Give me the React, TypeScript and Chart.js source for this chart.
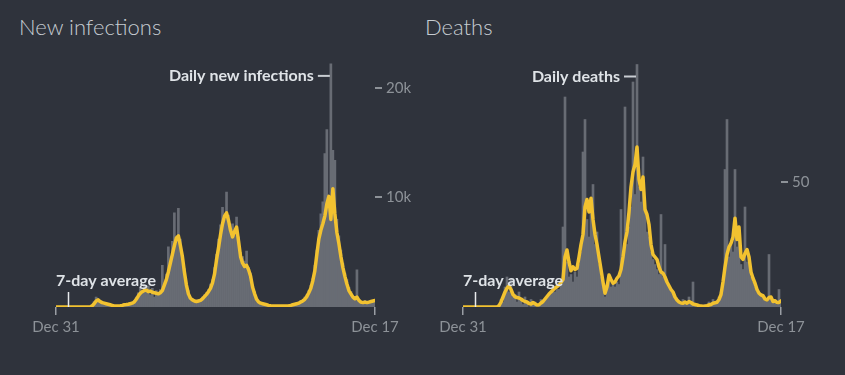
import React, { useEffect, useRef } from "react";
import { Chart, registerables } from "chart.js";

Chart.register(...registerables);

const BG = "#2f333c";
const BAR_GRAY = "#686c74";
const YELLOW = "#f2c230";
const TITLE_COLOR = "#c6ccd2";
const LABEL_COLOR = "#dfe3e7";
const TICK_COLOR = "#8d9298";
const FONT = "Lato, 'Noto Sans', sans-serif";

const xTickLabels = ["Dec 31", "Dec 17"];

// New infections, thousands per day (daily bars)
const infectionsDailyK = [
  0, 0, 0, 0, 0, 0, 0, 0, 0, 0, 0, 0, 0, 0, 0, 0, 0, 0,
  0.2, 0.5, 0.9, 0.7, 0.4, 0.5, 0.3, 0.35, 0.2, 0.25, 0.1, 0.15, 0.1, 0.05, 0.15, 0.2, 0.1, 0.3, 0.25, 0.4, 0.3, 0.6,
  0.9, 1.3, 1.8, 1.2, 2.0, 1.4, 1.9, 1.1, 1.7, 0.9, 1.5, 1.3, 1.6, 3.8, 2.2, 3.0, 5.5, 3.9, 6.0, 8.6,
  5.8, 9.0, 6.2, 4.4, 3.5, 2.1, 1.5, 0.9, 0.7, 0.5, 0.6, 0.5, 0.7, 0.9, 1.1, 1.3, 1.6, 2.1, 2.5, 3.6,
  4.8, 6.2, 7.5, 9.1, 8.0, 10.5, 8.4, 6.8, 7.6, 6.5, 8.2, 6.4, 5.0, 4.6, 4.2, 5.1, 3.6, 3.1, 2.0, 1.4,
  0.8, 0.5, 0.4, 0.3, 0.3, 0.2, 0.15, 0.1, 0.15, 0.1, 0.1, 0.12, 0.08, 0.1, 0.15, 0.1, 0.15, 0.2, 0.3, 0.2,
  0.4, 0.3, 0.6, 0.5, 0.9, 1.1, 1.5, 2.0, 2.6, 3.8, 5.2, 7.0, 8.5, 9.6, 14.0, 16.2, 9.0, 22.2, 14.3, 13.4,
  8.0, 6.5, 5.2, 4.0, 3.1, 2.5, 1.8, 1.4, 1.0, 0.8, 3.4, 0.7, 0.5, 0.4, 0.6, 0.4, 0.5, 0.6, 0.5, 0.7,
];

// New infections, 7-day average, thousands
const infectionsAvgK = [
  0, 0, 0, 0, 0, 0, 0, 0, 0, 0, 0, 0, 0, 0, 0, 0, 0, 0,
  0.1, 0.3, 0.55, 0.65, 0.5, 0.4, 0.35, 0.3, 0.25, 0.2, 0.15, 0.1, 0.1, 0.1, 0.12, 0.15, 0.2, 0.22, 0.25, 0.3, 0.35, 0.45,
  0.7, 1.0, 1.25, 1.4, 1.5, 1.55, 1.4, 1.45, 1.35, 1.3, 1.25, 1.2, 1.3, 1.5, 2.0, 2.5, 3.2, 4.0, 4.8, 5.6,
  6.3, 6.5, 5.6, 4.6, 3.2, 2.0, 1.2, 0.8, 0.65, 0.55, 0.5, 0.55, 0.6, 0.75, 0.95, 1.15, 1.4, 1.7, 2.2, 3.0,
  4.3, 5.4, 6.6, 7.6, 8.3, 8.6, 7.9, 7.0, 6.4, 6.9, 7.3, 6.0, 4.6, 4.0, 3.7, 3.8, 3.4, 2.8, 1.8, 1.2,
  0.7, 0.45, 0.35, 0.3, 0.25, 0.2, 0.15, 0.12, 0.1, 0.1, 0.1, 0.1, 0.1, 0.1, 0.1, 0.1, 0.12, 0.15, 0.2, 0.25,
  0.3, 0.35, 0.45, 0.55, 0.7, 0.95, 1.3, 1.7, 2.4, 3.3, 4.8, 6.2, 7.0, 7.6, 8.3, 9.4, 10.1, 8.0, 10.8, 8.5,
  6.8, 5.8, 4.6, 3.6, 2.8, 2.1, 1.5, 1.2, 0.9, 0.75, 0.9, 0.6, 0.45, 0.4, 0.45, 0.4, 0.45, 0.5, 0.55, 0.6,
];

// Deaths per day (daily bars)
const deathsDaily = [
  0, 0, 0, 0, 0, 0, 0, 0, 0, 0, 0, 0, 0, 0, 0, 0, 0, 0,
  1, 3, 2, 8, 12, 6, 11, 4, 5, 2, 6, 3, 1, 4, 2, 0, 3, 1, 2, 0, 1, 3,
  2, 3, 4, 5, 5, 6, 6, 7, 7, 9, 32, 84, 18, 12, 13, 10, 14, 12, 17, 22,
  62, 75, 35, 28, 40, 49, 25, 30, 17, 12, 8, 4, 7, 11, 8, 9, 8, 10, 9, 39,
  18, 80, 25, 32, 40, 90, 45, 97, 48, 42, 60, 38, 30, 28, 22, 19, 17, 15, 13, 37,
  12, 25, 10, 8, 7, 6, 4, 3, 2, 1, 3, 2, 1, 4, 2, 10, 1, 0, 1, 0,
  0, 1, 0, 2, 1, 3, 2, 2, 4, 6, 9, 55, 75, 20, 25, 22, 55, 24, 28, 17,
  15, 40, 18, 20, 12, 10, 8, 6, 5, 4, 4, 3, 2, 21, 3, 2, 3, 1, 7, 2,
];

// Deaths, 7-day average
const deathsAvg = [
  0, 0, 0, 0, 0, 0, 0, 0, 0, 0, 0, 0, 0, 0, 0, 0, 0, 0,
  0.5, 2, 4, 6, 7.5, 8.4, 7, 5, 4.1, 3.8, 3.6, 3.2, 2.6, 2.2, 2.0, 1.4, 1.2, 1.8, 1.3, 0.8, 0.9, 1.6,
  2.2, 3.2, 4.2, 5.2, 6.0, 6.8, 7.6, 8.1, 8.8, 9.8, 11, 20, 22.8, 18, 14.5, 16.1, 15, 15.5, 20, 25,
  29, 40, 43, 38, 43.5, 35, 29, 25, 20, 15, 10, 5.5, 8, 12.8, 11, 9.5, 10, 11.5, 12.5, 15,
  20, 26, 30, 38, 48, 54, 57, 64, 51, 47, 52, 39, 37, 33, 25, 21, 20, 19, 16, 14,
  13.5, 12, 10, 8.5, 7, 6, 4, 2.8, 2, 1.6, 1.5, 2, 1.5, 2.2, 1.8, 1.2, 1.0, 0.8, 0.5, 0.4,
  0.3, 0.3, 0.5, 0.8, 1.0, 1.5, 1.7, 1.9, 3, 5, 10, 16, 21, 24, 25.5, 28, 35.5, 27, 32, 20,
  19, 21.5, 23, 20, 14, 11.5, 9.5, 7, 5.5, 4.8, 4.5, 3.2, 2.8, 3.8, 4, 2.2, 2.5, 1.8, 1.8, 2.5,
];

const infectionsYTicks = [10, 20];
const infectionsYTickLabels = ["10k", "20k"];
const deathsYTicks = [50];
const deathsYTickLabels = ["50"];

type PanelProps = {
  left: number;
  width: number;
  title: string;
  titleLeft: number;
  daily: number[];
  avg: number[];
  yMax: number;
  yTicks: number[];
  yTickLabels: string[];
  dailyLabel: string;
  padLeft: number;
  padTop: number;
  axisWidth: number;
};

function Panel(p: PanelProps) {
  const ref = useRef<HTMLCanvasElement>(null);
  useEffect(() => {
    if (!ref.current) return;
    const n = p.daily.length;
    const annot = {
      id: "annot",
      afterDatasetsDraw(chart: any) {
        const ctx = chart.ctx;
        const xs = chart.scales.x;
        const ys = chart.scales.y;
        let peakI = 0;
        p.daily.forEach((v, i) => {
          if (v > p.daily[peakI]) peakI = i;
        });
        const px = xs.getPixelForValue(peakI);
        const py = ys.getPixelForValue(p.daily[peakI]);
        ctx.save();
        ctx.strokeStyle = "#c9cdd2";
        ctx.lineWidth = 2;
        ctx.beginPath();
        ctx.moveTo(px - 13, py + 12);
        ctx.lineTo(px - 1, py + 12);
        ctx.stroke();
        ctx.font = `700 16px ${FONT}`;
        ctx.fillStyle = LABEL_COLOR;
        ctx.textAlign = "right";
        ctx.textBaseline = "alphabetic";
        ctx.fillText(p.dailyLabel, px - 17, py + 17);

        const bx = Math.round(xs.getPixelForValue(6)) + 0.5;
        const by = ys.getPixelForValue(0);
        ctx.strokeStyle = "#e8eaec";
        ctx.lineWidth = 1.5;
        ctx.beginPath();
        ctx.moveTo(bx, by - 15);
        ctx.lineTo(bx, by);
        ctx.stroke();
        ctx.textAlign = "left";
        ctx.fillText("7-day average", xs.getPixelForValue(0), by - 21);
        ctx.restore();
      },
    };
    const chart = new Chart(ref.current, {
      type: "bar",
      data: {
        datasets: [
          {
            type: "line",
            data: p.avg.map((y, x) => ({ x, y })),
            borderColor: YELLOW,
            borderWidth: 3.5,
            pointRadius: 0,
            borderJoinStyle: "round",
            borderCapStyle: "round",
            tension: 0,
            order: 0,
          } as any,
          {
            type: "bar",
            data: p.daily.map((y, x) => ({ x, y })),
            backgroundColor: BAR_GRAY,
            barPercentage: 1,
            categoryPercentage: 1,
            borderWidth: 0,
            order: 1,
          } as any,
        ],
      },
      options: {
        responsive: false,
        animation: false,
        devicePixelRatio: 1,
        layout: { padding: { left: p.padLeft, top: p.padTop, right: 0, bottom: 0 } },
        plugins: { legend: { display: false }, tooltip: { enabled: false } },
        scales: {
          x: {
            type: "linear",
            min: 0,
            max: n - 1,
            offset: false,
            afterBuildTicks: (s: any) => {
              s.ticks = [{ value: 0 }, { value: n - 1 }];
            },
            ticks: {
              callback: (_v: any, i: number) => xTickLabels[i],
              color: TICK_COLOR,
              font: { family: FONT, size: 15 },
              padding: 3,
              maxRotation: 0,
              autoSkip: false,
            },
            grid: {
              offset: false,
              drawOnChartArea: false,
              drawTicks: true,
              tickLength: 8,
              color: "#9a9ea4",
              lineWidth: 1.5,
            },
            border: { display: false },
            afterFit: (s: any) => {
              s.height = 68;
            },
          },
          y: {
            position: "right",
            min: 0,
            max: p.yMax,
            afterBuildTicks: (s: any) => {
              s.ticks = p.yTicks.map((v) => ({ value: v }));
            },
            ticks: {
              callback: (_v: any, i: number) => p.yTickLabels[i],
              color: TICK_COLOR,
              font: { family: FONT, size: 15 },
              padding: 4,
            },
            grid: { drawOnChartArea: false, drawTicks: true, tickLength: 7, color: "#8d9298", lineWidth: 2 },
            border: { display: false },
            afterFit: (s: any) => {
              s.width = p.axisWidth;
            },
          },
        },
      } as any,
      plugins: [annot],
    });
    return () => chart.destroy();
  }, []);
  return (
    <>
      <div
        style={{
          position: "absolute",
          left: p.titleLeft,
          top: 16,
          fontFamily: FONT,
          fontWeight: 300,
          fontSize: 22,
          lineHeight: "22px",
          color: TITLE_COLOR,
          whiteSpace: "nowrap",
        }}
      >
        {p.title}
      </div>
      <canvas
        ref={ref}
        width={p.width}
        height={375}
        style={{ position: "absolute", left: p.left, top: 0, width: p.width, height: 375 }}
      />
    </>
  );
}

export default function App() {
  useEffect(() => {
    document.body.style.margin = "0";
    document.body.style.background = BG;
  }, []);
  return (
    <div style={{ position: "relative", width: 845, height: 375, background: BG, overflow: "hidden" }}>
      <Panel
        left={0}
        width={420}
        title="New infections"
        titleLeft={19}
        daily={infectionsDailyK}
        avg={infectionsAvgK}
        yMax={22.5}
        yTicks={infectionsYTicks}
        yTickLabels={infectionsYTickLabels}
        dailyLabel="Daily new infections"
        padLeft={56}
        padTop={60.6}
        axisWidth={45}
      />
      <Panel
        left={420}
        width={425}
        title="Deaths"
        titleLeft={425}
        daily={deathsDaily}
        avg={deathsAvg}
        yMax={100}
        yTicks={deathsYTicks}
        yTickLabels={deathsYTickLabels}
        dailyLabel="Daily deaths"
        padLeft={43}
        padTop={57}
        axisWidth={64}
      />
    </div>
  );
}
